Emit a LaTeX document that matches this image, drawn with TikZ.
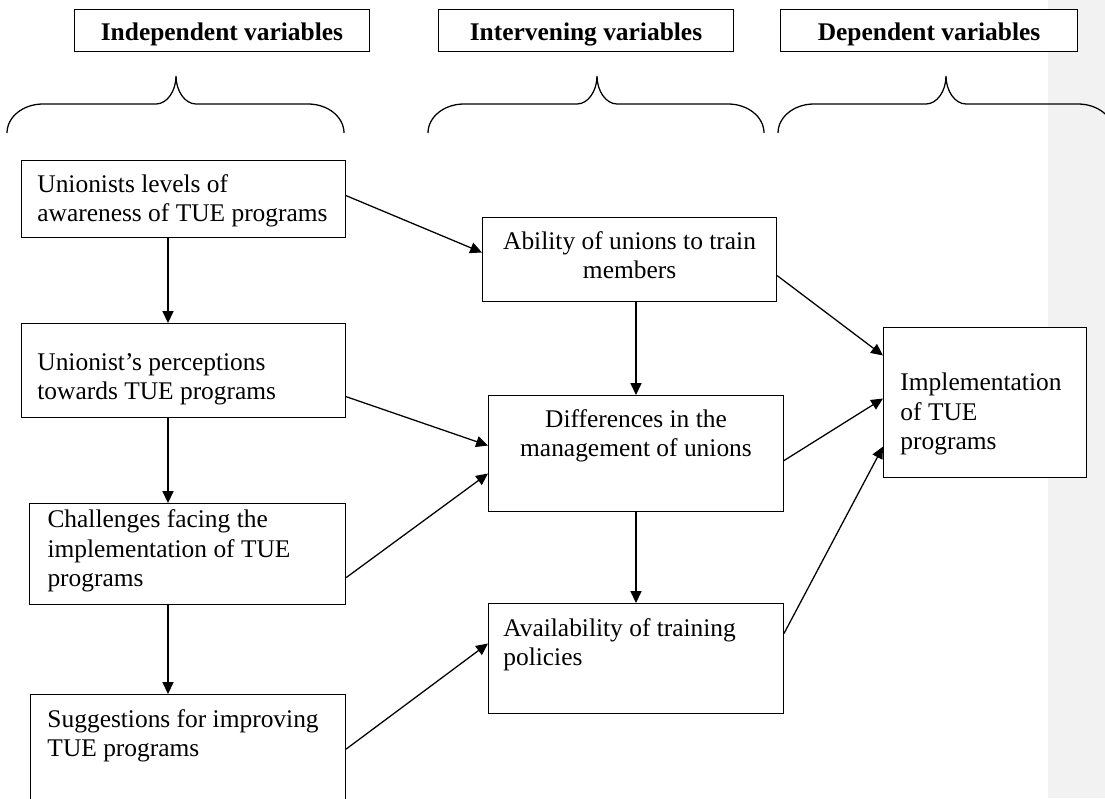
\documentclass[tikz,border=0pt]{standalone}
\usepackage{fontspec}
\setmainfont{Liberation Serif}
\usetikzlibrary{positioning, calc, arrows.meta}
\definecolor{marginGray}{RGB}{242,242,242}
\tikzstyle{Box} = [draw, fill=white, line width=0.5pt, inner ysep=0pt,
anchor=north west, font=\fontsize{12pt}{13.8pt}\selectfont]
\tikzstyle{Head} = [Box, inner xsep=0pt,
font=\fontsize{12pt}{13.8pt}\selectfont\bfseries]
\tikzstyle{Arrow} = [line width=0.6pt, -{Triangle[length=5.6pt, width=5.2pt]}]
\tikzstyle{Brace} = [line width=0.6pt]
% width, height, top gap, text
\newcommand{\boxtext}[4]{\parbox[t][#2][t]{#1}{\vspace*{#3}#4}}

\begin{document}
\begin{tikzpicture}[x=0.472pt, y=-0.472pt]
    \path[use as bounding box] (0,0) rectangle (1105,798);
    \clip (0,0) rectangle (1105,798);
    \fill[marginGray] (1048,0) rectangle (1105,798);
    % column headings
    \node [Head] (h1) at (74,9) {\boxtext{139.2pt}{19.8pt}{6.5pt}{\centering Independent variables}};
    \node [Head] (h2) at (438,9) {\boxtext{139.2pt}{19.8pt}{6.5pt}{\centering Intervening variables}};
    \node [Head] (h3) at (780,9) {\boxtext{140.2pt}{19.8pt}{6.5pt}{\centering Dependent variables}};
    \foreach \l/\c/\r in {7/176/344, 428/597/764, 778/946/1114}
        \draw[Brace] (\l,133) .. controls (\l,117) and ({\l+16},104) .. ({\l+36},104)
            -- ({\c-20},104) .. controls ({\c-9},104) and (\c,91) .. (\c,76)
            .. controls (\c,91) and ({\c+9},104) .. ({\c+20},104)
            -- ({\r-36},104) .. controls ({\r-16},104) and (\r,117) .. (\r,133);
    % independent variables
    \node [Box, inner xsep=7.5pt] (1) at (21,160) {\boxtext{137.9pt}{36.3pt}{6.5pt}{\raggedright Unionists levels of\\ awareness of TUE programs}};
    \node [Box, inner xsep=7.5pt] (2) at (21,323) {\boxtext{137.9pt}{44.4pt}{14pt}{\raggedright Unionist’s perceptions\\ towards TUE programs}};
    \node [Box, inner xsep=8.5pt] (3) at (29,503) {\boxtext{132.2pt}{47.7pt}{3pt}{\raggedright Challenges facing the\\ implementation of TUE\\ programs}};
    \node [Box, inner xsep=8pt] (4) at (30,694) {\boxtext{132.7pt}{66pt}{7pt}{\raggedright Suggestions for improving\\ TUE programs}};
    % intervening variables
    \node [Box, inner xsep=6pt] (5) at (482,217) {\boxtext{126.8pt}{39.6pt}{6.5pt}{\centering Ability of unions to train\\ members}};
    \node [Box, inner xsep=6pt] (6) at (488,395) {\boxtext{127.2pt}{54.8pt}{6.5pt}{\centering Differences in the\\ management of unions}};
    \node [Box, inner xsep=7pt] (7) at (488,603) {\boxtext{125.2pt}{51.9pt}{7pt}{\raggedright Availability of training\\ policies}};
    % dependent variable
    \node [Box, inner xsep=8pt] (8) at (883,327) {\boxtext{79.8pt}{70.8pt}{21.6pt}{\raggedright Implementation\\ of TUE\\ programs}};
    \coordinate (m) at (168,0);
    \draw[Arrow] (1.south -| m) -- (2.north -| m);
    \draw[Arrow] (2.south -| m) -- (3.north -| m);
    \draw[Arrow] (3.south -| m) -- (4.north -| m);
    \draw[Arrow] ([yshift=1.6pt]1.east) -- ([yshift=3.3pt]5.west);
    \draw[Arrow] ([yshift=-12.3pt]2.east) -- ([yshift=3.8pt]6.west);
    \draw[Arrow] ([yshift=-11.1pt]3.east) -- ([yshift=-9.4pt]6.west);
    \draw[Arrow] ([yshift=-26pt]4.north east) -- ([yshift=7.1pt]7.west);
    \draw[Arrow] (5.south -| 6.north) -- (6.north);
    \draw[Arrow] (6.south) -- (7.north);
    \draw[Arrow] ([yshift=-7.6pt]5.east) -- ([yshift=22.2pt]8.west);
    \draw[Arrow] ([yshift=-3.3pt]6.east) -- ([yshift=1.9pt]8.west);
    \draw[Arrow] ([yshift=11.8pt]7.east) -- ([yshift=-20.8pt]8.west);
\end{tikzpicture}
\end{document}
